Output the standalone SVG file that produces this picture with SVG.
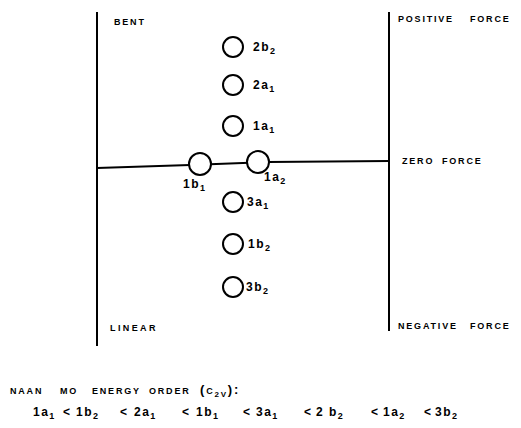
<svg xmlns="http://www.w3.org/2000/svg" width="521" height="428" viewBox="0 0 521 428">
<style>
  .t{font-family:"Liberation Sans",Arial,sans-serif;font-weight:bold;font-size:9px;fill:#000;letter-spacing:1.8px}
  .o{font-family:"Liberation Sans",Arial,sans-serif;font-weight:bold;font-size:12px;fill:#000;letter-spacing:1.5px}
  .s{font-size:9px}
  .ln{stroke:#000;stroke-width:2;fill:none}
  .c{stroke:#000;stroke-width:2;fill:#fff}
</style>
<rect width="521" height="428" fill="#fff"/>
<g id="connectors">
  <line class="ln" x1="97" y1="12" x2="97" y2="346"/>
  <line class="ln" x1="389" y1="12" x2="389" y2="331"/>
  <polyline class="ln" points="97,168 190,165 268,162 389,161"/>
</g>
<g id="frame-labels">
  <text class="t" x="114" y="25">BENT</text>
  <text class="t" x="398" y="22">POSITIVE</text>
  <text class="t" x="470" y="22">FORCE</text>
  <text class="t" x="402" y="164">ZERO</text>
  <text class="t" x="442" y="164">FORCE</text>
  <text class="t" x="110" y="331" style="letter-spacing:2.4px">LINEAR</text>
  <text class="t" x="398" y="329">NEGATIVE</text>
  <text class="t" x="470" y="329">FORCE</text>
</g>
<g id="orb-2b2"><circle class="c" cx="233" cy="47" r="10"/><text class="o" x="253" y="51">2b<tspan class="s" dy="3">2</tspan></text></g>
<g id="orb-2a1"><circle class="c" cx="233" cy="85" r="10"/><text class="o" x="253" y="89">2a<tspan class="s" dy="3">1</tspan></text></g>
<g id="orb-1a1"><circle class="c" cx="233" cy="126" r="10"/><text class="o" x="253" y="130">1a<tspan class="s" dy="3">1</tspan></text></g>
<g id="orb-1b1"><circle class="c" cx="200" cy="164" r="11"/><text class="o" x="183" y="188">1b<tspan class="s" dy="3">1</tspan></text></g>
<g id="orb-1a2"><circle class="c" cx="258" cy="162" r="11"/><text class="o" x="264" y="181">1a<tspan class="s" dy="3">2</tspan></text></g>
<g id="orb-3a1"><circle class="c" cx="233" cy="202" r="10"/><text class="o" x="247" y="206">3a<tspan class="s" dy="3">1</tspan></text></g>
<g id="orb-1b2"><circle class="c" cx="233" cy="244" r="10"/><text class="o" x="248" y="248">1b<tspan class="s" dy="3">2</tspan></text></g>
<g id="orb-3b2"><circle class="c" cx="233" cy="287" r="10"/><text class="o" x="246" y="291">3b<tspan class="s" dy="3">2</tspan></text></g>
<g id="caption">
  <text class="t" x="10" y="394">NAAN</text>
  <text class="t" x="60" y="394">MO</text>
  <text class="t" x="92" y="394">ENERGY</text>
  <text class="t" x="149" y="394">ORDER</text>
  <text class="t" x="200" y="394"><tspan font-size="13">(</tspan>C<tspan font-size="8" dy="3">2V</tspan><tspan font-size="13" dy="-3">):</tspan></text>
  <g class="o">
    <text x="33" y="416">1a<tspan class="s" dy="3">1</tspan></text>
    <text x="63" y="416">&lt;</text>
    <text x="76" y="416">1b<tspan class="s" dy="3">2</tspan></text>
    <text x="120" y="416">&lt;</text>
    <text x="134" y="416">2a<tspan class="s" dy="3">1</tspan></text>
    <text x="182" y="416">&lt;</text>
    <text x="196" y="416">1b<tspan class="s" dy="3">1</tspan></text>
    <text x="243" y="416">&lt;</text>
    <text x="256" y="416">3a<tspan class="s" dy="3">1</tspan></text>
    <text x="304" y="416">&lt;</text>
    <text x="316" y="416">2 b<tspan class="s" dy="3">2</tspan></text>
    <text x="371" y="416">&lt;</text>
    <text x="383" y="416">1a<tspan class="s" dy="3">2</tspan></text>
    <text x="424" y="416">&lt;</text>
    <text x="435" y="416">3b<tspan class="s" dy="3">2</tspan></text>
  </g>
</g>
</svg>
